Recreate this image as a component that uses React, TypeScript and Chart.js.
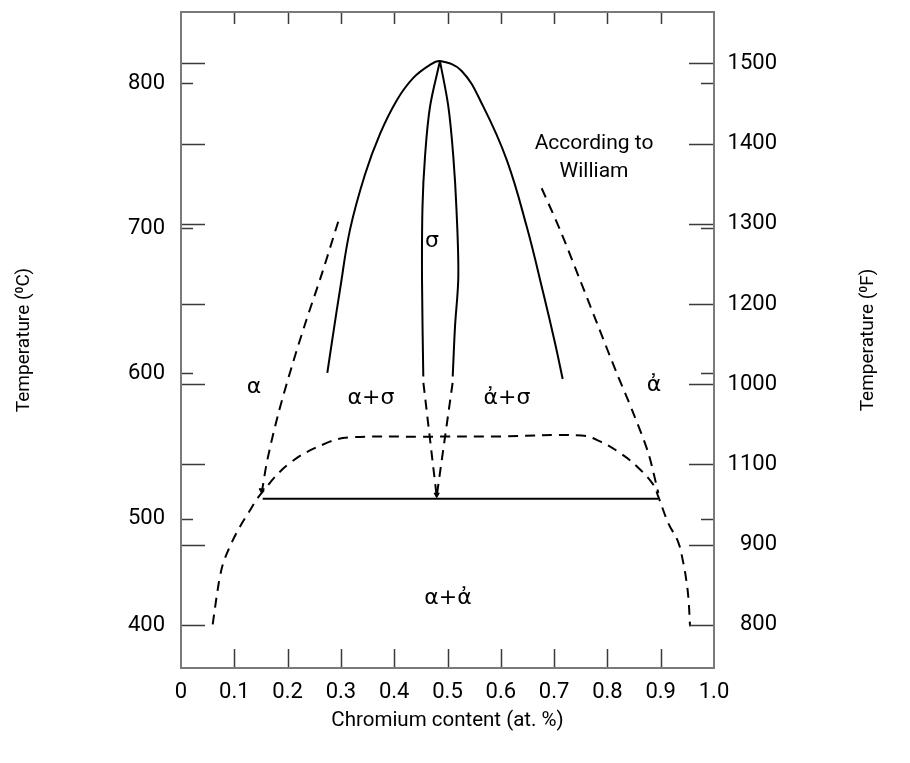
import React, { useEffect, useRef } from "react";
import { Chart, registerables } from "chart.js";

Chart.register(...registerables);

// ---------- tick data ----------
const xTickValues = [0, 0.1, 0.2, 0.3, 0.4, 0.5, 0.6, 0.7, 0.8, 0.9, 1.0];
const xTickLabels = ["0", "0.1", "0.2", "0.3", "0.4", "0.5", "0.6", "0.7", "0.8", "0.9", "1.0"];
// left axis labels (°C) as printed in the figure
const celsiusLabelValues = [426.7, 500, 600, 700, 800];
const celsiusLabels = ["400", "500", "600", "700", "800"];
const celsiusMarkValues = [500, 600, 700, 800];
// right axis (°F) as printed in the figure
const fahrenheitValues = [800, 900, 1000, 1100, 1200, 1300, 1400, 1500];
const fahrenheitLabels = ["800", "900", "1100", "1000", "1200", "1300", "1400", "1500"];

// ---------- curves: [Cr fraction, °C] ----------
const sigmaOuter = [
  [0.2745, 600.3], [0.2857, 627.8], [0.2983, 657.6], [0.3171, 699.0], [0.3452, 737.0],
  [0.3734, 765.0], [0.4047, 788.0], [0.4358, 803.5], [0.4672, 812.5], [0.4859, 815.1],
  [0.5266, 808.3], [0.5672, 783.7], [0.6111, 747.0], [0.6486, 701.1], [0.6797, 655.3],
  [0.7017, 620.9], [0.7161, 596.1],
];
const sigmaInnerLeft = [
  [0.4859, 815.1], [0.4672, 783.7], [0.4578, 749.3], [0.4531, 714.9], [0.4522, 664.4], [0.4546, 597.9],
];
const sigmaInnerRight = [
  [0.4859, 815.1], [0.5016, 783.7], [0.5109, 749.3], [0.5169, 712.6], [0.5203, 666.7],
  [0.5141, 632.3], [0.5098, 597.9],
];
const sigmaDashLeft = [[0.4548, 593.5], [0.4797, 515.3]];
const sigmaDashRight = [[0.5096, 593.5], [0.4797, 515.3]];
const eutectoidLine = [[0.1533, 513.6], [0.8955, 513.6]];
const alphaSolvus = [
  [0.1514, 517.7], [0.1621, 540.6], [0.1829, 572.7], [0.2079, 604.8], [0.2334, 634.7],
  [0.2647, 669.1], [0.2964, 706.2],
];
const domeDashed = [
  [0.0595, 427.1], [0.0638, 438.6], [0.0689, 451.1], [0.0732, 460.3], [0.0794, 469.5],
  [0.0919, 480.9], [0.1075, 492.4], [0.1263, 503.9], [0.1514, 517.7], [0.2045, 538.3],
  [0.2734, 552.1], [0.3171, 555.9], [0.45, 556.4], [0.6, 556.6], [0.7518, 557.2],
  [0.7861, 553.2], [0.8236, 545.2], [0.8550, 536.0], [0.8861, 523.4], [0.8955, 515.1],
  [0.9146, 496.6], [0.9325, 484.2], [0.9424, 469.5], [0.9484, 456.6], [0.9522, 444.3],
  [0.9550, 425.9],
];
const alphaPrimeSolvus = [
  [0.6767, 727.5], [0.7111, 698.9], [0.7486, 664.4], [0.7829, 632.3], [0.8174, 600.3],
  [0.8486, 572.7], [0.8767, 545.2], [0.8955, 517.7],
];
const arrowTips = [[0.1514, 519.5], [0.4797, 516.5]];

// ---------- region labels ----------
const regionTexts = ["α", "α+σ", "σ", "ἀ+σ", "ἀ", "α+ἀ"];
const regionX = [0.137, 0.3565, 0.471, 0.6116, 0.8874, 0.501];
const regionC = [590.5, 583, 691, 583, 592, 445.3];
const noteTexts = ["According to", "William"];
const noteX = [0.7749, 0.7749];
const noteC = [758, 739];

const SANS = "Roboto, 'Liberation Sans', sans-serif";
const GREEK = "'DejaVu Sans', 'Liberation Sans', sans-serif";

const toXY = (arr: number[][]) => arr.map(([x, y]) => ({ x, y }));

const decorPlugin = {
  id: "decor",
  afterDatasetsDraw(chart: any) {
    const { ctx, chartArea: a, scales } = chart;
    const xs = scales.x;
    const cs = scales.y;
    const fs = scales.yF;
    ctx.save();
    // tick marks drawn inward
    ctx.strokeStyle = "#3a3a3a";
    ctx.lineWidth = 1.5;
    ctx.beginPath();
    for (const v of celsiusMarkValues) {
      const py = Math.round(cs.getPixelForValue(v)) + 0.5;
      ctx.moveTo(a.left, py); ctx.lineTo(a.left + 12, py);
      ctx.moveTo(a.right, py); ctx.lineTo(a.right - 13, py);
    }
    for (const v of fahrenheitValues) {
      const py = Math.round(fs.getPixelForValue(v)) + 0.5;
      ctx.moveTo(a.left, py); ctx.lineTo(a.left + 24, py);
      ctx.moveTo(a.right, py); ctx.lineTo(a.right - 25, py);
    }
    for (const v of xTickValues.slice(1, -1)) {
      const px = Math.round(xs.getPixelForValue(v)) + 0.5;
      ctx.moveTo(px, a.top); ctx.lineTo(px, a.top + 12);
      ctx.moveTo(px, a.bottom); ctx.lineTo(px, a.bottom - 19);
    }
    ctx.stroke();
    // frame
    ctx.strokeStyle = "#7a7a7a";
    ctx.lineWidth = 2;
    ctx.strokeRect(a.left, a.top, a.right - a.left, a.bottom - a.top);
    // region labels
    ctx.fillStyle = "#000";
    ctx.textAlign = "center";
    ctx.textBaseline = "middle";
    ctx.font = `22px ${GREEK}`;
    regionTexts.forEach((t, i) => {
      ctx.fillText(t, xs.getPixelForValue(regionX[i]), cs.getPixelForValue(regionC[i]));
    });
    ctx.font = `21px ${SANS}`;
    noteTexts.forEach((t, i) => {
      ctx.fillText(t, xs.getPixelForValue(noteX[i]), cs.getPixelForValue(noteC[i]));
    });
    // right axis title
    ctx.save();
    ctx.translate(868, (a.top + a.bottom) / 2);
    ctx.rotate(-Math.PI / 2);
    ctx.font = `19px ${SANS}`;
    ctx.fillText("Temperature (⁰F)", 0, 0);
    ctx.restore();
    ctx.restore();
  },
};

export default function App() {
  const ref = useRef<HTMLCanvasElement | null>(null);
  useEffect(() => {
    if (!ref.current) return;
    const solid = { borderColor: "#000", borderWidth: 2, pointRadius: 0, showLine: true, fill: false };
    const dashed = { ...solid, borderDash: [10, 7] };
    const chart = new Chart(ref.current, {
      type: "scatter",
      data: {
        datasets: [
          { ...solid, data: toXY(sigmaOuter), tension: 0.4 },
          { ...solid, data: toXY(sigmaInnerLeft), tension: 0.35 },
          { ...solid, data: toXY(sigmaInnerRight), tension: 0.35 },
          { ...dashed, data: toXY(sigmaDashLeft) },
          { ...dashed, data: toXY(sigmaDashRight) },
          { ...solid, data: toXY(eutectoidLine) },
          { ...dashed, data: toXY(alphaSolvus), tension: 0.3 },
          { ...dashed, data: toXY(domeDashed), tension: 0.4 },
          { ...dashed, data: toXY(alphaPrimeSolvus), tension: 0.3 },
          {
            data: toXY(arrowTips), showLine: false, pointStyle: "triangle", pointRotation: 180,
            pointRadius: 3, backgroundColor: "#000", borderColor: "#000", borderWidth: 1,
          },
        ] as any,
      },
      options: {
        animation: false,
        responsive: false,
        layout: { padding: { top: 12, left: 0, right: 133, bottom: 0 } },
        plugins: { legend: { display: false }, tooltip: { enabled: false } },
        scales: {
          x: {
            type: "linear",
            position: "bottom",
            min: 0,
            max: 1,
            grid: { display: false, drawTicks: false },
            border: { display: false },
            afterBuildTicks: (s: any) => { s.ticks = xTickValues.map((v) => ({ value: v })); },
            afterFit: (s: any) => { s.height = 95; s.paddingLeft = 0; s.paddingRight = 0; },
            ticks: {
              autoSkip: false,
              maxRotation: 0,
              padding: 11,
              color: "#000",
              font: { size: 22, family: SANS },
              callback: (_v: any, i: number) => xTickLabels[i],
            },
            title: {
              display: true,
              text: "Chromium content (at. %)",
              color: "#000",
              font: { size: 20.5, family: SANS },
              padding: { top: 0, bottom: 30 },
            },
          },
          y: {
            type: "linear",
            position: "left",
            min: 397.1,
            max: 848.9,
            grid: { display: false, drawTicks: false },
            border: { display: false },
            afterBuildTicks: (s: any) => { s.ticks = celsiusLabelValues.map((v) => ({ value: v })); },
            afterFit: (s: any) => { s.width = 181; s.paddingTop = 0; s.paddingBottom = 0; },
            ticks: {
              autoSkip: false,
              padding: 16,
              color: "#000",
              font: { size: 22, family: SANS },
              callback: (_v: any, i: number) => celsiusLabels[i],
            },
            title: {
              display: true,
              text: "Temperature (⁰C)",
              color: "#000",
              font: { size: 19, family: SANS },
              padding: { top: 13, bottom: 0 },
            },
          },
          yF: {
            type: "linear",
            position: "right",
            min: 746.1,
            max: 1564.2,
            grid: { display: false, drawTicks: false },
            border: { display: false },
            afterBuildTicks: (s: any) => { s.ticks = fahrenheitValues.map((v) => ({ value: v })); },
            afterFit: (s: any) => { s.width = 63; s.paddingTop = 0; s.paddingBottom = 0; },
            ticks: {
              autoSkip: false,
              padding: 16,
              crossAlign: "far",
              color: "#000",
              font: { size: 22, family: SANS },
              callback: (_v: any, i: number) => fahrenheitLabels[i],
            },
          },
        },
      } as any,
      plugins: [decorPlugin],
    });
    return () => chart.destroy();
  }, []);
  return (
    <div style={{ position: "fixed", left: 0, top: 0, width: 910, height: 763, background: "#fff" }}>
      <canvas ref={ref} width={910} height={763} style={{ display: "block" }} />
    </div>
  );
}
